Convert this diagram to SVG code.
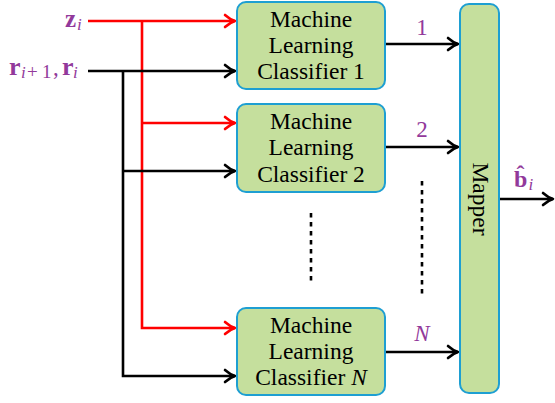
<svg xmlns="http://www.w3.org/2000/svg" width="555" height="403" viewBox="0 0 555 403">
<style>
.box{fill:#c5df9d;stroke:#1e9fd2;stroke-width:2}
.node-text{font-family:'Liberation Serif',serif;font-size:23.5px;fill:#000;text-anchor:middle}
.lab{font-family:'Liberation Serif',serif;font-size:23px;fill:#92399b}
.sub{font-size:17px;font-style:italic}
.bk{stroke:#000;stroke-width:2.6;fill:none}
.rd{stroke:#ff0000;stroke-width:2.6;fill:none}
.dot{stroke:#000;stroke-width:2.6;stroke-dasharray:4.5,4.5;fill:none}
</style>
<defs>
<marker id="ab" markerUnits="userSpaceOnUse" markerWidth="16" markerHeight="16" viewBox="-12 -8 14 16" refX="0" refY="0" orient="auto">
<path d="M-10,-6 Q-5,-1.5 0,0 Q-5,1.5 -10,6" fill="none" stroke="#000" stroke-width="2.6" stroke-linecap="round" stroke-linejoin="round"/>
</marker>
<marker id="ar" markerUnits="userSpaceOnUse" markerWidth="16" markerHeight="16" viewBox="-12 -8 14 16" refX="0" refY="0" orient="auto">
<path d="M-10,-6 Q-5,-1.5 0,0 Q-5,1.5 -10,6" fill="none" stroke="#ff0000" stroke-width="2.6" stroke-linecap="round" stroke-linejoin="round"/>
</marker>
</defs>
<g id="connectors">
<path class="rd" d="M88,21 H235" marker-end="url(#ar)"/>
<path class="rd" d="M142,21 V328 H235" marker-end="url(#ar)"/>
<path class="rd" d="M142,123 H235" marker-end="url(#ar)"/>
<path class="bk" d="M88,71 H235" marker-end="url(#ab)"/>
<path class="bk" d="M123,71 V376 H235" marker-end="url(#ab)"/>
<path class="bk" d="M123,171 H235" marker-end="url(#ab)"/>
<path class="bk" d="M385,44 H458" marker-end="url(#ab)"/>
<path class="bk" d="M385,147 H458" marker-end="url(#ab)"/>
<path class="bk" d="M385,352 H458" marker-end="url(#ab)"/>
<path class="bk" d="M499,199 H553" marker-end="url(#ab)"/>
<path class="dot" d="M311,213 V282"/>
<path class="dot" d="M422,181 V294"/>
</g>
<g id="inputs">
<text class="lab" x="65" y="27"><tspan font-weight="bold" font-size="25">z</tspan><tspan class="sub" x="77" y="30">i</tspan></text>
<text class="lab" x="9" y="75"><tspan font-weight="bold" font-size="26">r</tspan><tspan class="sub" x="21" y="78">i</tspan><tspan font-size="19" x="27" y="78">+</tspan><tspan font-size="19" x="42" y="78">1</tspan><tspan x="53" y="75">,</tspan><tspan font-weight="bold" font-size="26" x="62" y="75">r</tspan><tspan class="sub" x="73" y="78">i</tspan></text>
</g>
<g id="classifier1">
<rect class="box" x="237" y="2" width="148" height="87" rx="9"/>
<text class="node-text" x="311" y="27">Machine</text>
<text class="node-text" x="311" y="53">Learning</text>
<text class="node-text" x="311" y="79">Classifier 1</text>
</g>
<g id="classifier2">
<rect class="box" x="237" y="104" width="148" height="88" rx="9"/>
<text class="node-text" x="311" y="129">Machine</text>
<text class="node-text" x="311" y="155">Learning</text>
<text class="node-text" x="311" y="182">Classifier 2</text>
</g>
<g id="classifierN">
<rect class="box" x="237" y="308" width="148" height="87" rx="9"/>
<text class="node-text" x="311" y="333">Machine</text>
<text class="node-text" x="311" y="359">Learning</text>
<text class="node-text" x="311" y="385">Classifier <tspan font-style="italic">N</tspan></text>
</g>
<g id="mapper">
<rect class="box" x="460" y="4" width="39" height="389" rx="9"/>
<text class="node-text" transform="translate(473,199) rotate(90)" x="0" y="0">Mapper</text>
</g>
<g id="labels">
<text class="lab" x="422" y="35" text-anchor="middle">1</text>
<text class="lab" x="422" y="137" text-anchor="middle">2</text>
<text class="lab" x="422" y="341" text-anchor="middle" font-style="italic">N</text>
<text class="lab" x="514" y="187"><tspan font-weight="bold" font-size="24">b̂</tspan><tspan class="sub" x="528.5" y="190">i</tspan></text>
</g>
</svg>
